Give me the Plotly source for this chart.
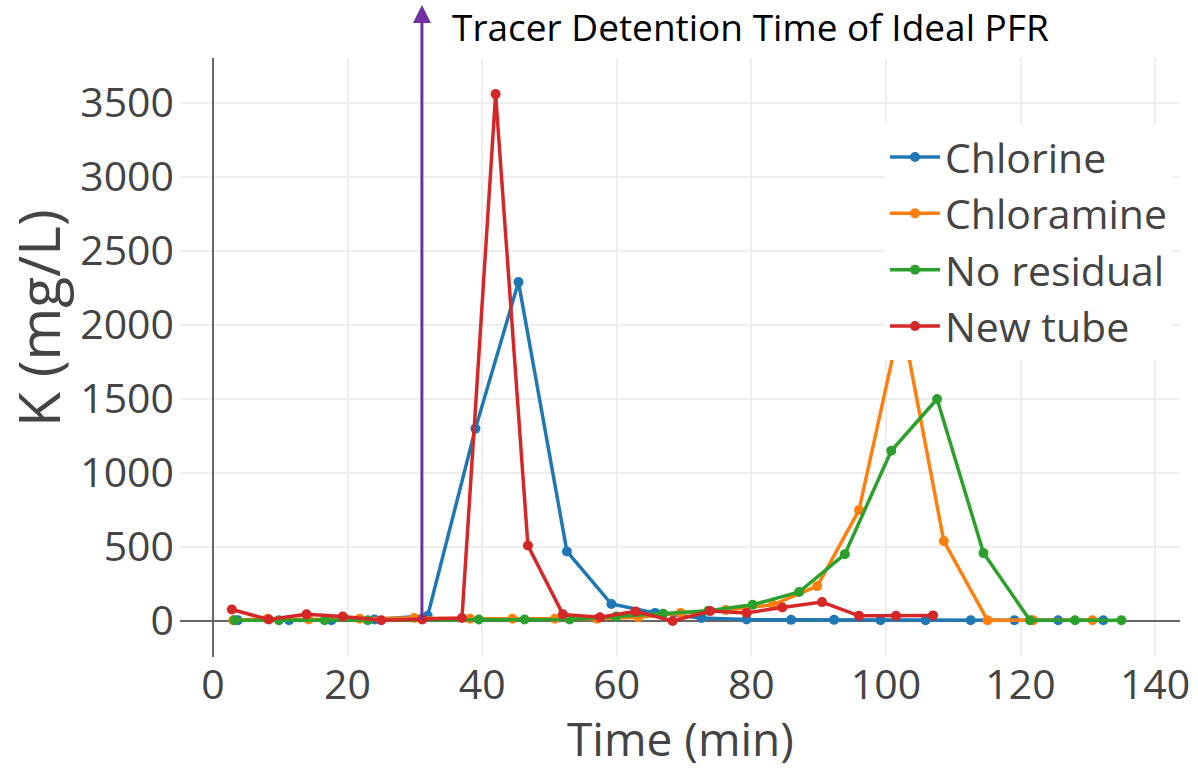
import plotly.graph_objects as go

# ---- data ----
chlorine_t = [3.7, 11.3, 17.6, 24.0, 31.9, 39.0, 45.4, 52.6, 59.2, 65.7, 72.6, 79.3, 85.9, 92.3, 99.2, 105.9, 112.6, 119.1, 125.6, 132.3]
chlorine_k = [5, 5, 5, 10, 35, 1300, 2290, 470, 115, 55, 20, 10, 8, 8, 5, 5, 5, 5, 5, 5]

chloramine_t = [3.0, 8.1, 14.2, 21.8, 29.9, 38.2, 44.5, 50.8, 57.1, 63.2, 69.5, 76.2, 83.2, 89.8, 96.0, 102.3, 108.6, 115.1, 121.9, 130.7]
chloramine_k = [5, 15, 10, 15, 20, 15, 15, 15, 15, 25, 55, 74, 110, 236, 750, 2050, 540, 5, 5, 5]

noresid_t = [3.2, 9.8, 16.6, 23.0, 39.5, 46.3, 53.0, 59.9, 66.9, 73.6, 80.2, 87.1, 93.9, 100.8, 107.6, 114.5, 121.4, 128.1, 135.0]
noresid_k = [5, 5, 5, 5, 10, 10, 10, 30, 50, 70, 110, 196, 452, 1150, 1500, 459, 5, 5, 5]

newtube_t = [2.8, 8.3, 13.9, 19.3, 25.0, 31.1, 37.0, 42.0, 46.8, 52.0, 57.5, 62.8, 68.3, 73.9, 79.3, 84.6, 90.5, 96.0, 101.5, 107.0]
newtube_k = [78, 10, 45, 30, 5, 10, 20, 3560, 510, 45, 25, 65, 0, 68, 55, 92, 128, 35, 35, 38]

series_names = ["Chlorine", "Chloramine", "No residual", "New tube"]
series_colors = ["#1f77b4", "#ff7f0e", "#2ca02c", "#d62728"]

pfr_time = 31.05
annotation_text = "Tracer Detention Time of Ideal PFR"

x_ticks = [0, 20, 40, 60, 80, 100, 120, 140]
y_ticks = [0, 500, 1000, 1500, 2000, 2500, 3000, 3500]

# ---- figure ----
fig = go.Figure()
all_series = [(chlorine_t, chlorine_k), (chloramine_t, chloramine_k),
              (noresid_t, noresid_k), (newtube_t, newtube_k)]
for (t, k), name, col in zip(all_series, series_names, series_colors):
    fig.add_trace(go.Scatter(x=t, y=k, name=name, mode="lines+markers",
                             line=dict(color=col, width=3.5),
                             marker=dict(color=col, size=10)))

tick_font = dict(family="Open Sans", size=41, color="#444")

fig.update_layout(
    width=1198, height=769,
    template="none",
    paper_bgcolor="white", plot_bgcolor="white",
    margin=dict(l=180, r=18, t=58, b=112),
    showlegend=True,
    legend=dict(x=0.705, y=0.89, xanchor="left", yanchor="top",
                bgcolor="white", font=dict(family="Open Sans", size=41, color="#444"),
                itemwidth=50, tracegroupgap=0),
    xaxis=dict(range=[-4.9, 143.7], tickvals=x_ticks, showgrid=True, gridcolor="#eee",
               gridwidth=1.5, zeroline=True, zerolinecolor="#666", zerolinewidth=2,
               showline=False, ticks="", tickfont=tick_font),
    yaxis=dict(range=[-243, 3804], tickvals=y_ticks, showgrid=True, gridcolor="#eee",
               gridwidth=1.5, zeroline=True, zerolinecolor="#666", zerolinewidth=2,
               showline=False, ticks="", tickfont=tick_font, ticklabelstandoff=5),
    font=dict(family="Open Sans", color="#444"),
)

# axis titles
fig.add_annotation(text="Time (min)", xref="paper", yref="paper", x=0.5, y=-0.136,
                   xanchor="center", yanchor="middle", showarrow=False,
                   font=dict(family="Open Sans", size=46, color="#444"))
fig.add_annotation(text="K (mg/L)", xref="paper", yref="paper", x=-0.142, y=0.566,
                   xanchor="center", yanchor="middle", showarrow=False, textangle=-90,
                   font=dict(family="Open Sans", size=57, color="#444"))

# purple arrow marking ideal PFR time
fig.add_annotation(x=pfr_time, xref="x", y=1.0885, yref="paper", text="",
                   showarrow=True, ax=0, ay=616, axref="pixel", ayref="pixel",
                   arrowhead=2, arrowsize=1.2, arrowwidth=3, arrowcolor="#7030A0",
                   standoff=0)
fig.add_annotation(text=annotation_text, xref="paper", yref="paper",
                   x=(450 - 180) / 1000, y=(657 - 27) / 599, xanchor="left", yanchor="middle",
                   showarrow=False, font=dict(family="Open Sans", size=37, color="black"))

fig.write_html("out.html")
